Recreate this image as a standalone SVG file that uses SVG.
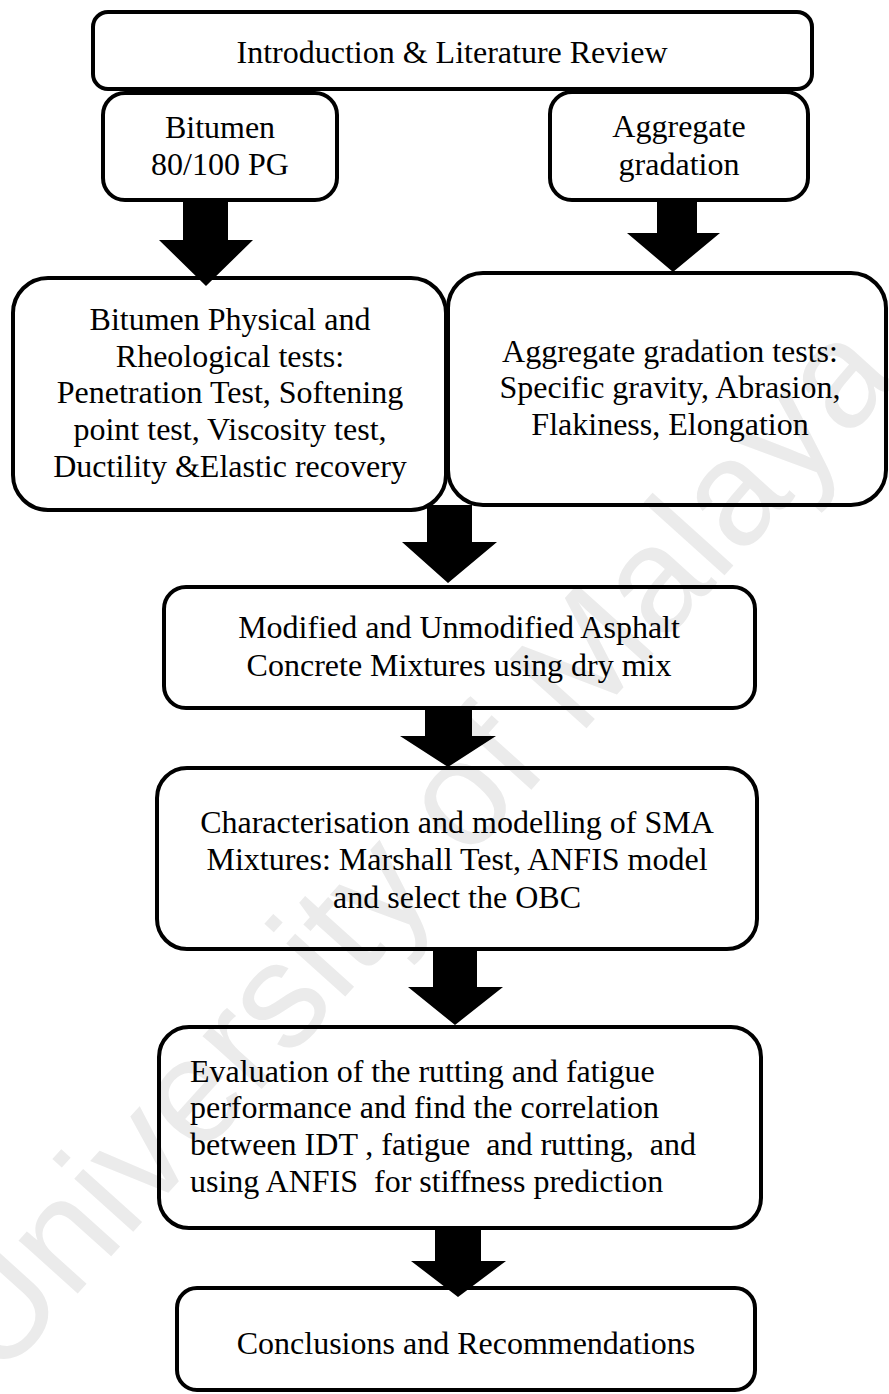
<svg xmlns="http://www.w3.org/2000/svg" width="889" height="1394" viewBox="0 0 889 1394">
<style>
.box{fill:none;stroke:#000;stroke-width:4}
.t{font-family:"Liberation Serif","Times New Roman",serif;font-size:32px;fill:#000}
.c{text-anchor:middle}
.arr{fill:#000;stroke:none}
.wm{font-family:"Liberation Sans",Arial,sans-serif;font-size:150px;fill:#ebebeb;text-anchor:middle}
</style>
<rect width="889" height="1394" fill="#fff"/>
<text class="wm" transform="translate(450,880) rotate(-48)">University of Malaya</text>
<g id="connectors">
<polygon class="arr" points="183,199 228,199 228,240 253,240 206,286 159,240 183,240"/>
<polygon class="arr" points="657,199 697,199 697,233 720,233 673,272 627,233 657,233"/>
<polygon class="arr" points="427,505 472,505 472,542 497,542 448,583 402,542 427,542"/>
<polygon class="arr" points="425,708 472,708 472,736 496,736 448,767 400,736 425,736"/>
<polygon class="arr" points="433,949 477,949 477,987 503,987 455,1025 408,987 433,987"/>
<polygon class="arr" points="435,1228 481,1228 481,1261 506,1261 458,1297 411,1261 435,1261"/>
</g>
<g id="intro">
<rect class="box" x="93" y="12" width="719" height="77" rx="15"/>
<text class="t c" x="452" y="63">Introduction &amp; Literature Review</text>
</g>
<g id="bitumen">
<rect class="box" x="103" y="93" width="234" height="107" rx="22"/>
<text class="t c" x="220" y="138">Bitumen</text>
<text class="t c" x="220" y="175">80/100 PG</text>
</g>
<g id="aggregate">
<rect class="box" x="550" y="92" width="258" height="108" rx="22"/>
<text class="t c" x="679" y="137">Aggregate</text>
<text class="t c" x="679" y="175">gradation</text>
</g>
<g id="bitumen-tests">
<rect class="box" x="13" y="278" width="433" height="232" rx="35"/>
<text class="t c" x="230" y="330">Bitumen Physical and</text>
<text class="t c" x="230" y="367">Rheological tests:</text>
<text class="t c" x="230" y="403">Penetration Test, Softening</text>
<text class="t c" x="230" y="440">point test, Viscosity test,</text>
<text class="t c" x="230" y="477">Ductility &amp;Elastic recovery</text>
</g>
<g id="aggregate-tests">
<rect class="box" x="448" y="273" width="438" height="232" rx="35"/>
<text class="t c" x="670" y="362">Aggregate gradation tests:</text>
<text class="t c" x="670" y="398">Specific gravity, Abrasion,</text>
<text class="t c" x="670" y="435">Flakiness, Elongation</text>
</g>
<g id="mixtures">
<rect class="box" x="164" y="587" width="591" height="121" rx="22"/>
<text class="t c" x="459" y="638">Modified and Unmodified Asphalt</text>
<text class="t c" x="459" y="676">Concrete Mixtures using dry mix</text>
</g>
<g id="characterisation">
<rect class="box" x="157" y="768" width="600" height="181" rx="30"/>
<text class="t c" x="457" y="833">Characterisation and modelling of SMA</text>
<text class="t c" x="457" y="870">Mixtures: Marshall Test, ANFIS model</text>
<text class="t c" x="457" y="908">and select the OBC</text>
</g>
<g id="evaluation">
<rect class="box" x="159" y="1027" width="602" height="201" rx="30"/>
<text class="t" x="190" y="1082" xml:space="preserve">Evaluation of the rutting and fatigue</text>
<text class="t" x="190" y="1118" xml:space="preserve">performance and find the correlation</text>
<text class="t" x="190" y="1155" xml:space="preserve">between IDT , fatigue  and rutting,  and</text>
<text class="t" x="190" y="1192" xml:space="preserve">using ANFIS  for stiffness prediction</text>
</g>
<g id="conclusions">
<rect class="box" x="177" y="1288" width="578" height="102" rx="20"/>
<text class="t c" x="466" y="1354">Conclusions and Recommendations</text>
</g>
</svg>
